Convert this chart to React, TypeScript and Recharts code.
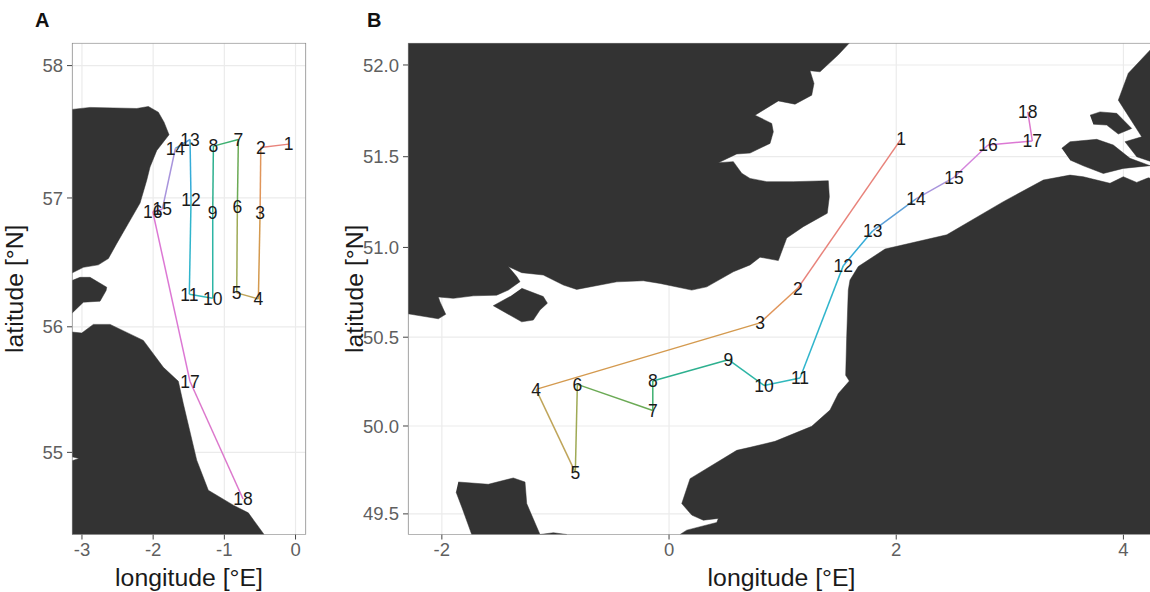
import React from 'react';
import { ScatterChart, Scatter, XAxis, YAxis, CartesianGrid } from 'recharts';

type Pair = [number, number];

const FONT = '"Liberation Sans", Arial, sans-serif';

const stationLabels = ['1','2','3','4','5','6','7','8','9','10','11','12','13','14','15','16','17','18'];
const segmentColors = ['#E8837B','#E0955A','#D49A4F','#BFA55A','#9FAA55','#6BAA55','#3DB070','#2DB08F','#2DB5A5','#30B8BC','#30B5CC','#35ACD8','#5C9FD8','#A894DC','#D485DC','#DC78D4','#DC78CC'];

// Panel A
const stationsA: Pair[] = [[-0.096,57.41],[-0.488,57.385],[-0.498,56.886],[-0.522,56.218],[-0.826,56.266],[-0.817,56.932],[-0.803,57.445],[-1.154,57.395],[-1.163,56.889],[-1.163,56.224],[-1.492,56.255],[-1.468,56.984],[-1.482,57.445],[-1.688,57.377],[-1.871,56.914],[-2.006,56.896],[-1.482,55.567],[-0.737,54.622]];
const lonDomainA: Pair = [-3.14, 0.147];
const latDomainA: Pair = [54.332, 58.168];
const lonTicksA = [-3, -2, -1, 0];
const latTicksA = [55, 56, 57, 58];
const landA1: Pair[] = [[-3.14,57.672],[-2.886,57.687],[-2.23,57.679],[-2.067,57.694],[-1.927,57.651],[-1.847,57.576],[-1.777,57.481],[-1.949,57.362],[-2.044,57.236],[-2.09,57.136],[-2.184,56.961],[-2.348,56.805],[-2.511,56.65],[-2.629,56.533],[-2.77,56.484],[-2.98,56.465],[-3.14,56.421]];
const landA2: Pair[] = [[-3.14,56.362],[-3.028,56.387],[-2.886,56.387],[-2.652,56.31],[-2.661,56.284],[-2.746,56.201],[-2.98,56.193],[-3.14,56.107]];
const landA3: Pair[] = [[-3.14,55.959],[-3.003,55.951],[-2.84,56.019],[-2.605,56.019],[-2.138,55.893],[-1.857,55.68],[-1.646,55.569],[-1.576,55.39],[-1.388,54.937],[-1.225,54.693],[-0.874,54.572],[-0.663,54.509],[-0.442,54.332],[-3.14,54.332],[-3.14,54.932],[-3.041,54.951],[-3.14,54.964]];

// Panel B
const stationsB: Pair[] = [[2.042,51.596],[1.133,50.773],[0.801,50.58],[-1.171,50.207],[-0.825,49.737],[-0.807,50.235],[-0.143,50.088],[-0.143,50.254],[0.522,50.374],[0.836,50.229],[1.153,50.271],[1.534,50.899],[1.793,51.092],[2.174,51.268],[2.509,51.387],[2.808,51.564],[3.198,51.586],[3.158,51.745]];
const lonDomainB: Pair = [-2.298, 4.278];
const latDomainB: Pair = [49.382, 52.119];
const lonTicksB = [-2, 0, 2, 4];
const latTicksB = [49.5, 50, 50.5, 51, 51.5, 52];
const landEngland: Pair[] = [[-2.298,52.119],[1.587,52.119],[1.49,52.055],[1.329,51.963],[1.241,51.969],[1.276,51.9],[1.256,51.836],[1.109,51.787],[0.962,51.805],[0.757,51.727],[0.904,51.682],[0.918,51.636],[0.889,51.573],[0.713,51.52],[0.596,51.515],[0.434,51.467],[0.566,51.473],[0.64,51.409],[0.713,51.381],[0.86,51.363],[1.094,51.363],[1.402,51.368],[1.411,51.28],[1.393,51.189],[1.182,51.115],[1.036,51.052],[0.962,50.927],[0.801,50.946],[0.713,50.903],[0.566,50.865],[0.332,50.781],[0.2,50.763],[-0.079,50.8],[-0.226,50.815],[-0.46,50.809],[-0.813,50.767],[-0.93,50.791],[-1.107,50.847],[-1.297,50.86],[-1.415,50.894],[-1.341,50.838],[-1.312,50.81],[-1.415,50.763],[-1.517,50.735],[-1.723,50.731],[-1.899,50.717],[-2.031,50.725],[-2.016,50.697],[-1.966,50.628],[-2.031,50.603],[-2.298,50.631]];
const landWight: Pair[] = [[-1.297,50.773],[-1.107,50.727],[-1.071,50.69],[-1.136,50.652],[-1.195,50.596],[-1.297,50.586],[-1.547,50.676],[-1.4,50.727]];
const landCotentin: Pair[] = [[-1.855,49.682],[-1.591,49.669],[-1.371,49.705],[-1.268,49.682],[-1.253,49.559],[-1.136,49.382],[-1.018,49.392],[-0.9,49.382],[-1.737,49.382],[-1.825,49.54],[-1.875,49.625]];
const landFrance: Pair[] = [[0.097,49.382],[0.156,49.407],[0.42,49.451],[0.434,49.474],[0.302,49.464],[0.2,49.493],[0.112,49.559],[0.185,49.701],[0.596,49.862],[0.713,49.879],[0.933,49.913],[1.256,49.998],[1.417,50.09],[1.49,50.183],[1.587,50.254],[1.555,50.286],[1.564,50.502],[1.578,50.763],[1.593,50.819],[1.666,50.894],[1.901,50.991],[2.445,51.07],[2.943,51.253],[3.295,51.372],[3.53,51.399],[3.647,51.39],[3.882,51.354],[3.999,51.39],[4.117,51.359],[4.219,51.384],[4.278,51.377],[4.278,49.382]];
const landWalcheren: Pair[] = [[3.457,51.546],[3.53,51.582],[3.765,51.595],[3.911,51.564],[4.058,51.491],[4.234,51.451],[3.999,51.436],[3.823,51.408],[3.647,51.45],[3.53,51.482]];
const landSchouwen: Pair[] = [[3.706,51.727],[3.794,51.745],[3.941,51.737],[4.073,51.655],[3.955,51.624],[3.853,51.673],[3.735,51.678]];
const landHolland: Pair[] = [[4.278,52.109],[4.043,51.955],[3.955,51.809],[4.161,51.609],[4.014,51.582],[4.117,51.5],[4.278,51.466]];

const RAD = Math.PI / 180;
const merc = (lat: number) => Math.log(Math.tan(Math.PI / 4 + (lat * RAD) / 2)) / RAD;
const invMerc = (m: number) => (2 * Math.atan(Math.exp(m * RAD)) - Math.PI / 2) / RAD;
const toPoints = (pairs: Pair[]) => pairs.map(([lon, lat]) => ({ x: lon, y: merc(lat) }));

const noMark = () => null as any;

const StationLabel = (props: any) => (
  <text x={props.cx} y={props.cy} dy="0.36em" textAnchor="middle" fontFamily={FONT} fontSize={17.5} fill="#1a1a1a">
    {props.payload.label}
  </text>
);

interface PanelProps {
  left: number; width: number; axisWidth: number; rightGap: number;
  stations: Pair[]; land: Pair[][];
  lonDomain: Pair; latDomain: Pair; lonTicks: number[]; latTicks: number[]; digits: number;
}

function Panel({ left, width, axisWidth, rightGap, stations, land, lonDomain, latDomain, lonTicks, latTicks, digits }: PanelProps) {
  const tick = { fontFamily: FONT, fontSize: 18.5, fill: '#5f5f5f' };
  const titleStyle = { fontFamily: FONT, fontSize: 24.8, fill: '#1a1a1a', textAnchor: 'middle' as const };
  const frame = toPoints([
    [lonDomain[0], latDomain[0]], [lonDomain[1], latDomain[0]], [lonDomain[1], latDomain[1]],
    [lonDomain[0], latDomain[1]], [lonDomain[0], latDomain[0]],
  ]);
  const labelled = stations.map(([lon, lat], i) => ({ x: lon, y: merc(lat), label: stationLabels[i] }));
  return (
    <div style={{ position: 'absolute', left, top: 0 }}>
      <ScatterChart width={width} height={592} margin={{ top: 43, right: rightGap, bottom: 0, left: 0 }}>
        <CartesianGrid stroke="#ebebeb" strokeWidth={1.2} />
        <XAxis type="number" dataKey="x" domain={lonDomain} ticks={lonTicks} interval={0} allowDataOverflow
          height={57.5} axisLine={false} tickSize={5} tickMargin={3} tickLine={{ stroke: '#444' }} tick={tick}
          tickFormatter={(v: number) => String(v)}
          label={{ value: 'longitude [°E]', position: 'insideBottom', offset: 6, style: titleStyle }} />
        <YAxis type="number" dataKey="y" domain={[merc(latDomain[0]), merc(latDomain[1])]} ticks={latTicks.map(merc)} interval={0} allowDataOverflow
          width={axisWidth} axisLine={false} tickSize={5} tickMargin={4} tickLine={{ stroke: '#444' }} tick={tick}
          tickFormatter={(v: number) => invMerc(v).toFixed(digits)}
          label={{ value: 'latitude [°N]', angle: -90, position: 'insideLeft', offset: 14, style: titleStyle }} />
        {land.map((poly, i) => (
          <Scatter key={'land' + i} data={toPoints(poly)} isAnimationActive={false} shape={noMark}
            line={{ fill: '#333333', stroke: '#333333', strokeWidth: 0.5 }} />
        ))}
        {segmentColors.map((color, i) => (
          <Scatter key={'seg' + i} data={toPoints([stations[i], stations[i + 1]])} isAnimationActive={false} shape={noMark}
            line={{ stroke: color, strokeWidth: 1.5 }} />
        ))}
        <Scatter data={labelled} isAnimationActive={false} shape={StationLabel} />
        <Scatter data={frame} isAnimationActive={false} shape={noMark} line={{ stroke: '#808080', strokeWidth: 1.2, fill: 'none' }} />
      </ScatterChart>
    </div>
  );
}

const tagStyle: React.CSSProperties = { position: 'absolute', top: 8, fontFamily: FONT, fontWeight: 700, fontSize: 20, lineHeight: '24px', color: '#111' };

export default function App() {
  return (
    <div style={{ position: 'absolute', left: 0, top: 0, width: 1150, height: 592, overflow: 'hidden', background: '#fff' }}>
      <Panel left={0} width={330} axisWidth={72} rightGap={24} stations={stationsA} land={[landA1, landA2, landA3]}
        lonDomain={lonDomainA} latDomain={latDomainA} lonTicks={lonTicksA} latTicks={latTicksA} digits={0} />
      <Panel left={340} width={815} axisWidth={68} rightGap={0} stations={stationsB}
        land={[landEngland, landWight, landCotentin, landFrance, landWalcheren, landSchouwen, landHolland]}
        lonDomain={lonDomainB} latDomain={latDomainB} lonTicks={lonTicksB} latTicks={latTicksB} digits={1} />
      <div style={{ ...tagStyle, left: 35 }}>A</div>
      <div style={{ ...tagStyle, left: 367 }}>B</div>
    </div>
  );
}
